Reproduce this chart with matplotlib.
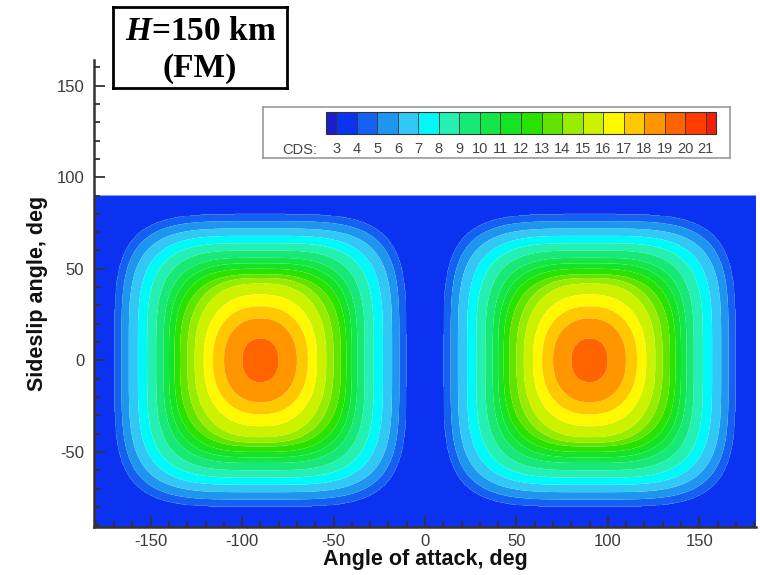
import numpy as np
import matplotlib
matplotlib.use("Agg")
import matplotlib.pyplot as plt
from matplotlib.colors import ListedColormap
from matplotlib.ticker import MultipleLocator

# ---------------- data ----------------
cds_levels = list(range(3, 22))          # legend values (contour levels)
band_colors = ["#0a32f0", "#1460f0", "#1e96f0", "#32c8f5", "#00f8f8",
               "#24f0b4", "#18e878", "#12e648", "#14e424", "#2ae200",
               "#60e400", "#98ec00", "#ccf200", "#fff800", "#ffc800",
               "#ff9600", "#ff6400", "#ff3c00"]      # bands 3-4 ... 20-21
under_color = "#1c1cc8"    # below 3
over_color = "#f01e0a"     # above 21

lobe_alpha = [-90, 90]     # centres of the two maxima (angle of attack)
lobe_beta = [0, 0]         # (sideslip)

# contour lines: value, half-width along alpha / beta (deg)
boundary_values = [4, 5, 6, 7, 8, 9, 10, 11, 12, 13, 14, 15, 16, 17, 18, 19]
half_width_alpha = [80, 76, 72, 67, 62, 57, 53, 50, 47, 44, 40, 36, 31, 26, 20, 10]
half_width_beta = [80, 76, 72, 68, 64, 60, 56, 53, 50, 47, 45, 42, 36, 29.5, 23, 12]
squareness = [4.3, 4.3, 4.2, 4.1, 4.0, 3.8, 3.6, 3.4, 3.2, 3.0, 2.8, 2.6, 2.4, 2.3, 2.2, 2.2]
background_cds = 3.5
peak_cds = 19.6

x_ticks = [-150, -100, -50, 0, 50, 100, 150]
y_ticks = [-50, 0, 50, 100, 150]

# ---------------- build the field ----------------
alpha = np.linspace(-181, 181, 905)
beta = np.linspace(-91, 90, 453)
A, B = np.meshgrid(alpha, beta)
Z = np.full(A.shape, background_cds)
bv = np.array(boundary_values, dtype=float)
for ca, cbeta in zip(lobe_alpha, lobe_beta):
    U = np.abs(A - ca)
    V = np.abs(B - cbeta)
    R = np.stack([((U / a) ** p + (V / b) ** p) ** (1.0 / p)
                  for a, b, p in zip(half_width_alpha, half_width_beta, squareness)])
    Zl = np.full(A.shape, background_cds)
    for k in range(len(bv) - 1):
        m = (R[k] < 1) & (R[k + 1] >= 1)
        t = (1 - R[k][m]) / (R[k + 1][m] - R[k][m])
        Zl[m] = bv[k] + t * (bv[k + 1] - bv[k])
    m = R[-1] < 1
    Zl[m] = bv[-1] + (1 - R[-1][m]) * (peak_cds - bv[-1])
    Z = np.maximum(Z, Zl)

# ---------------- figure ----------------
plt.rcParams["mathtext.fontset"] = "custom"
plt.rcParams["mathtext.it"] = "Liberation Serif:italic:bold"
plt.rcParams["mathtext.rm"] = "Liberation Serif:bold"

W, H = 760, 575
fig = plt.figure(figsize=(W / 100, H / 100), dpi=100)
fig.patch.set_facecolor("white")

def fbox(x0, y0, x1, y1):
    return [x0 / W, 1 - y1 / H, (x1 - x0) / W, (y1 - y0) / H]

ax = fig.add_axes(fbox(94, 60, 756, 527))
ax.set_facecolor("none")
cmap = ListedColormap(band_colors)
cmap.set_under(under_color)
cmap.set_over(over_color)
cf = ax.contourf(A, B, Z, levels=cds_levels, cmap=cmap, extend="both",
                 antialiased=True)

ax.set_xlim(-181, 181)
ax.set_ylim(-91, 164)
for s in ["top", "right"]:
    ax.spines[s].set_visible(False)
for s in ["left", "bottom"]:
    ax.spines[s].set_linewidth(1.8)
    ax.spines[s].set_color("#333333")
    ax.spines[s].set_zorder(5)

ax.set_xticks(x_ticks)
ax.set_yticks(y_ticks)
ax.xaxis.set_minor_locator(MultipleLocator(10))
ax.yaxis.set_minor_locator(MultipleLocator(10))
ax.tick_params(which="both", direction="in", color="#333333", width=1.3,
               top=False, right=False)
ax.tick_params(which="major", length=8)
ax.tick_params(which="minor", length=4.5)
ax.tick_params(axis="x", which="major", pad=5, labelsize=12, labelcolor="#3a3a3a")
ax.tick_params(axis="y", which="major", pad=7, labelsize=12, labelcolor="#3a3a3a")
ax.set_xticklabels([str(v) for v in x_ticks])
ax.set_yticklabels([str(v) for v in y_ticks])
for lab in ax.get_xticklabels() + ax.get_yticklabels():
    lab.set_fontfamily("Liberation Sans")

ax.set_xlabel("Angle of attack, deg", fontsize=15.5, fontweight="bold",
              family="Liberation Sans", color="#111111", labelpad=0)
ax.set_ylabel("Sideslip angle, deg", fontsize=15.5, fontweight="bold",
              family="Liberation Sans", color="#111111", labelpad=6)

# legend box
lbox = fig.add_axes(fbox(263, 107, 730, 158))
lbox.set_zorder(3)
lbox.set_xticks([])
lbox.set_yticks([])
for s in lbox.spines.values():
    s.set_color("#9a9a9a")
    s.set_linewidth(1.2)

cax = fig.add_axes(fbox(326, 112, 716, 134))
cax.set_zorder(4)
cb = fig.colorbar(cf, cax=cax, orientation="horizontal", drawedges=True,
                  extendrect=True, extendfrac=0.5 / 18)
cb.set_ticks(cds_levels)
cb.set_ticklabels([str(v) for v in cds_levels])
cb.outline.set_linewidth(0.8)
cb.outline.set_edgecolor("#333333")
cb.dividers.set_color("#333333")
cb.dividers.set_linewidth(0.6)
cax.tick_params(length=0, pad=6, labelsize=10.5, labelcolor="#444444")
for lab in cax.get_xticklabels():
    lab.set_fontfamily("Liberation Sans")
fig.text(282 / W, 1 - 150 / H, "CDS:", fontsize=10.5, family="Liberation Sans",
         color="#444444", ha="left", va="center", zorder=6)

# title box
tbox = fig.add_axes(fbox(113, 7, 287, 88))
tbox.set_zorder(3)
tbox.set_xticks([])
tbox.set_yticks([])
for s in tbox.spines.values():
    s.set_color("black")
    s.set_linewidth(2)
fig.text(201 / W, 1 - 31 / H, r"$H$=150 km", fontsize=24, family="Liberation Serif",
         fontweight="bold", ha="center", va="center", zorder=6)
fig.text(200 / W, 1 - 69 / H, "(FM)", fontsize=24, family="Liberation Serif",
         fontweight="bold", ha="center", va="center", zorder=6)

fig.savefig("out.png", dpi=100)
